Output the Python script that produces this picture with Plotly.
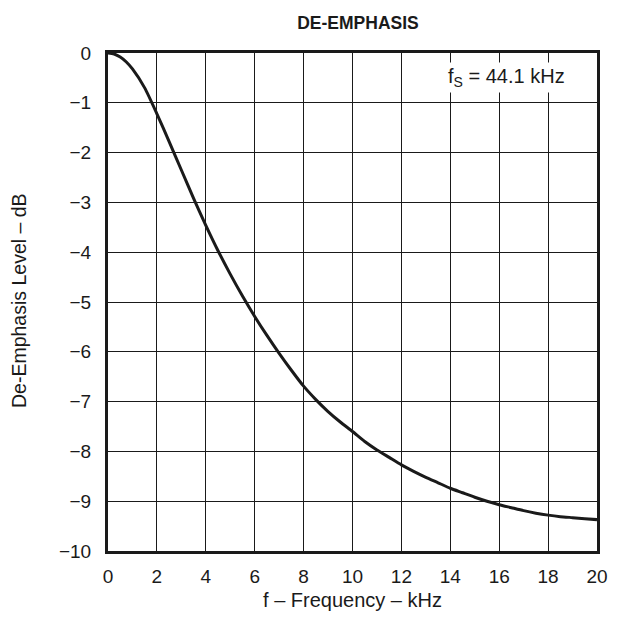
import plotly.graph_objects as go

freq_khz = [0, 0.25, 0.5, 0.75, 1, 1.5, 2, 2.5, 3, 3.5, 4, 4.5, 5, 5.5, 6, 6.5, 7, 7.5, 8, 8.5, 9, 9.5, 10,
            10.5, 11, 11.5, 12, 12.5, 13, 13.5, 14, 14.5, 15, 15.5, 16, 16.5, 17, 17.5, 18, 18.5, 19, 19.5, 20]
level_db = [0, -0.02, -0.08, -0.18, -0.32, -0.70, -1.22, -1.78, -2.35, -2.92, -3.46, -3.97, -4.44, -4.88, -5.29, -5.67,
            -6.03, -6.37, -6.69, -6.96, -7.20, -7.41, -7.60, -7.80, -7.97, -8.12, -8.27, -8.40, -8.52, -8.63,
            -8.74, -8.83, -8.92, -9.00, -9.07, -9.13, -9.19, -9.24, -9.28, -9.31, -9.33, -9.35, -9.37]
x_ticks = [0, 2, 4, 6, 8, 10, 12, 14, 16, 18, 20]
y_ticks = [0, -1, -2, -3, -4, -5, -6, -7, -8, -9, -10]

FONT = "Liberation Sans, Arial, sans-serif"
INK = "#1a1a1a"

fig = go.Figure()
fig.add_trace(go.Scatter(
    x=freq_khz, y=level_db, mode="lines",
    line=dict(color=INK, width=3, shape="spline", smoothing=0.6),
    showlegend=False, hoverinfo="skip",
))

fig.add_annotation(
    x=18.8, y=-0.5, xref="x", yref="y", xanchor="right", yanchor="middle",
    text="f<sub>S</sub> = 44.1 kHz", showarrow=False,
    font=dict(family=FONT, size=20, color=INK),
    bgcolor="white", borderpad=2,
)

fig.add_annotation(
    x=(17 - 108) / 500, y=(553 - 302) / 500, xref="paper", yref="paper", showarrow=False,
    text="De-Emphasis Level – dB", textangle=-90,
    xanchor="center", yanchor="middle",
    font=dict(family=FONT, size=19.5, color=INK),
)

fig.update_layout(
    width=618, height=619,
    margin=dict(l=108, r=10, t=53, b=66),
    paper_bgcolor="white", plot_bgcolor="white",
    font=dict(family=FONT, size=19, color=INK),
    title=dict(text="<b>DE-EMPHASIS</b>", x=358 / 618, xanchor="center", y=1 - 23 / 619, yanchor="middle",
               font=dict(family=FONT, size=17.5, color=INK)),
)

fig.update_xaxes(
    range=[0, 20], tickvals=x_ticks, ticktext=[str(v) for v in x_ticks],
    showgrid=True, gridcolor=INK, gridwidth=1.3,
    showline=True, linecolor=INK, linewidth=3, mirror=True,
    zeroline=False, ticks="", ticklabelstandoff=6,
    title=dict(text="f – Frequency – kHz", font=dict(size=20), standoff=8),
)
fig.update_yaxes(
    range=[-10, 0], tickvals=y_ticks, ticktext=[("−" + str(-v)) if v < 0 else "0" for v in y_ticks],
    showgrid=True, gridcolor=INK, gridwidth=1.3,
    showline=True, linecolor=INK, linewidth=3, mirror=True,
    zeroline=False, ticks="", ticklabelstandoff=10,
)

fig.write_html("out.html", config={"displayModeBar": False},
               post_script="document.body.style.margin='0';")
